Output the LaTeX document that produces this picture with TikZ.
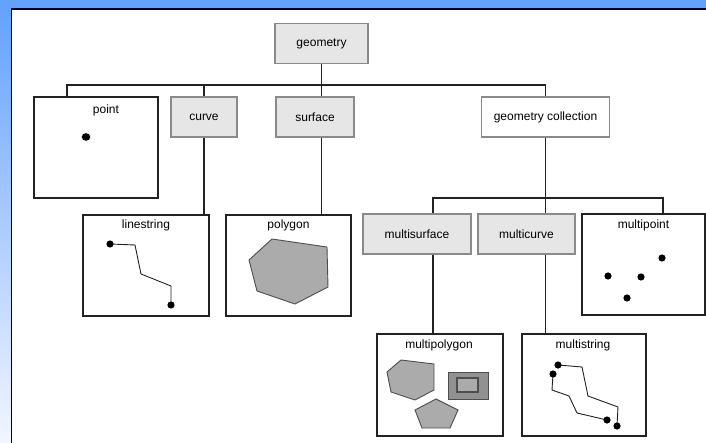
\documentclass[tikz,border=0pt]{standalone}
\usepackage{fontspec}
\setmainfont{Liberation Sans}
\usepackage{xcolor}
\usepackage{tikz}
\usetikzlibrary{
	arrows,shapes
}
\definecolor{deskblue}{HTML}{64A2FF}
\definecolor{deskpale}{HTML}{F2F6FF}
\definecolor{boxgray}{HTML}{E6E6E6}
\definecolor{rimgray}{HTML}{8A8A8A}
\definecolor{shapegray}{HTML}{ABABAB}
\definecolor{deepgray}{HTML}{919191}
\definecolor{inkgray}{HTML}{222222}

\begin{document}
\begin{tikzpicture}[x=1bp,y=-1bp,
		font=\fontsize{12bp}{14bp}\selectfont,
		class/.style={draw=rimgray,line width=1.4bp,fill=boxgray,minimum height=40bp,inner sep=0pt,text=black},
		frame/.style={draw=inkgray,line width=1.2bp,fill=white,minimum height=101bp,inner sep=0pt},
		tag/.style={text=black,inner sep=0pt},
		link/.style={draw=inkgray,line width=1.25bp},
		hv/.style={to path={-| (\tikztotarget)}},
		wire/.style={draw=inkgray,line width=0.9bp},
		poly/.style={fill=shapegray,draw=inkgray!80,line width=0.9bp}]
		\useasboundingbox (0,0) rectangle (706,443);
		% backdrop
		\fill[deskblue] (0,0) rectangle (706,9);
		\shade[top color=deskblue,bottom color=deskpale] (0,9) rectangle (11.5,443);
		\draw[line width=1.6bp,black!85!blue] (11.5,443) -- (11.5,8.8) -- (706,8.8);
		%
		\node[class,minimum width=93bp] (geometry) at (321.5,43.5) {geometry};
		\node[frame,minimum width=124bp] (point) at (96,147.5) {};
		\node[class,minimum width=66bp] (curve) at (204,117) {curve};
		\node[class,minimum width=78bp] (surface) at (315,117) {surface};
		\node[class,fill=white,minimum width=128bp] (collection) at (545.5,117) {geometry collection};
		\node[frame,minimum width=126bp] (linestring) at (146,265.5) {};
		\node[frame,minimum width=125bp] (polygon) at (288.5,265.5) {};
		\node[class,minimum width=108bp] (multisurface) at (417,234) {multisurface};
		\node[class,minimum width=97bp] (multicurve) at (526.5,234) {multicurve};
		\node[frame,minimum width=123bp] (multipoint) at (643.5,264.5) {};
		\node[frame,minimum width=126bp,minimum height=102bp] (multipolygon) at (440,385) {};
		\node[frame,minimum width=124bp,minimum height=102bp] (multistring) at (584,385) {};
		% titles in the frames
		\node[tag] (pointname) at (106,110.5) {point};
		\node[tag] (linestringname) at (146,225) {linestring};
		\node[tag] (polygonname) at (288.5,225) {polygon};
		\node[tag] (multipointname) at (643.5,225) {multipoint};
		\node[tag] (multipolygonname) at (439,345) {multipolygon};
		\node[tag] (multistringname) at (583,345) {multistring};
		%
		\coordinate (bus) at (321.5,85);
		\coordinate (subbus) at (545.5,198);
		\path[link]
		% top level
		(geometry) edge (bus)
		(bus) edge[hv] ([xshift=-29bp]point.north)
		(bus) edge[hv] (curve)
		(bus) edge (surface.north -| bus)
		(bus) edge[hv] (collection)
		% second level
		(collection) edge (subbus)
		(subbus) edge[hv] ([xshift=16bp]multisurface.north)
		(subbus) edge (multicurve.north -| subbus)
		(subbus) edge[hv] ([xshift=19.5bp]multipoint.north)
		% down to the frames
		(curve) edge (curve.south |- linestring.north)
		(surface.south -| bus) edge (polygon.north -| bus)
		([xshift=16bp]multisurface.south) edge ([xshift=16bp]multisurface.south |- multipolygon.north)
		(multicurve.south -| subbus) edge (multistring.north -| subbus);
		% point
		\fill[black] (86,137) ellipse (4.3bp and 3.8bp);
		% linestring
		\draw[wire] (110,244) -- (135,245) -- (141,274) -- (171,286) -- (171,305);
		\fill[black] (110,244) circle (3.6bp) (171,305) circle (3.6bp);
		% polygon
		\filldraw[poly] (272,239) -- (327,247) -- (328,287) -- (295,304) -- (257,291) -- (249,260) -- cycle;
		% multipoint
		\fill[black] (662,258) circle (3.6bp) (608,276) circle (3.6bp)
		(641,277) circle (3.6bp) (627,298) circle (3.6bp);
		% multipolygon
		\filldraw[poly] (401,360) -- (434,364) -- (434,390) -- (415,400) -- (391,392) -- (387,372) -- cycle;
		\filldraw[poly,fill=deepgray] (448,372) rectangle (488,399);
		\filldraw[poly,line width=1.2bp] (457,378) rectangle (478,392);
		\filldraw[poly] (436,399) -- (458,410) -- (450,428) -- (422,428) -- (415,410) -- cycle;
		% multistring
		\draw[wire] (558,365) -- (582,367) -- (588,396) -- (618,407) -- (617,426);
		\draw[wire] (553,374) -- (552,390) -- (569,396) -- (577,413) -- (607,420);
		\fill[black] (558,365) circle (3.6bp) (617,426) circle (3.6bp)
		(553,374) circle (3.6bp) (607,420) circle (3.6bp);
	\end{tikzpicture}
\end{document}
